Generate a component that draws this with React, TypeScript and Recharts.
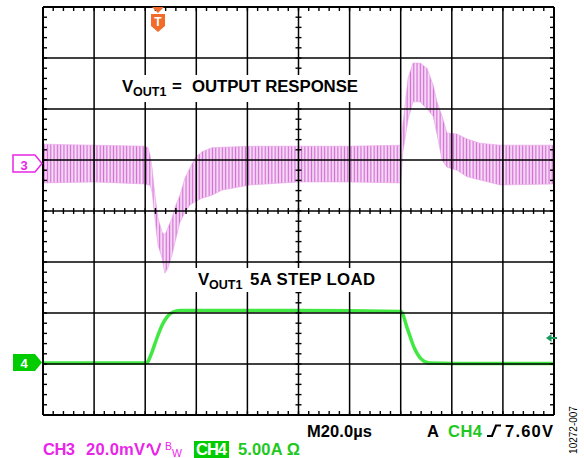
import React from "react";
import { ComposedChart, Area, Line, Scatter, XAxis, YAxis, ReferenceLine } from "recharts";

// time in µs (M 20.0µs/div, 10 div), levels in screen divisions (8 div, centre = 0)
const ch3Time = [0, 20, 40, 41.1, 41.9, 42.7, 43.8, 45.0, 46.6, 47.7, 48.9, 50.5, 51.7, 53.6, 55.6, 57.5, 59.5, 62.2, 66.1, 70.1, 81, 100, 120, 140, 140.8, 142.9, 144.8, 147.6, 150.3, 152.7, 154.2, 156.2, 158.1, 162, 166, 171, 179, 200];
const ch3High = [1.31, 1.29, 1.27, 1.24, 1.1, 0.84, 0.31, -0.14, -0.41, -0.47, -0.33, -0.14, 0.08, 0.31, 0.65, 0.84, 1.04, 1.16, 1.24, 1.25, 1.27, 1.27, 1.27, 1.29, 1.67, 2.61, 2.9, 2.9, 2.8, 2.47, 2.14, 1.86, 1.53, 1.51, 1.41, 1.33, 1.29, 1.29];
const ch3Low = [0.55, 0.57, 0.53, 0.51, 0.51, 0.37, -0.14, -0.67, -0.92, -1.22, -1.12, -0.86, -0.61, -0.22, -0.02, 0.12, 0.18, 0.25, 0.31, 0.41, 0.51, 0.57, 0.57, 0.55, 1.14, 1.8, 2.14, 2.14, 2.0, 1.86, 1.51, 1.0, 0.86, 0.8, 0.67, 0.61, 0.51, 0.53];

const ch4Time = [0, 40.5, 41.1, 42.7, 44.6, 46.6, 48.5, 50.9, 53.6, 100, 140.1, 142.5, 145.2, 148, 151.1, 170, 200];
const ch4Level = [-2.98, -2.98, -2.95, -2.76, -2.49, -2.24, -2.08, -1.98, -1.95, -1.95, -1.97, -2.29, -2.67, -2.9, -2.98, -2.99, -2.99];

const majorX = [0, 20, 40, 60, 80, 100, 120, 140, 160, 180, 200];
const majorY = [-4, -3, -2, -1, 0, 1, 2, 3, 4];

const minorX = Array.from({ length: 51 }, (_, i) => i * 4);
const minorY = Array.from({ length: 41 }, (_, i) => -4 + i * 0.2);

const ch3Rows = ch3Time.map((t, i) => ({ t, band: [ch3Low[i], ch3High[i]] }));
const ch4Rows = ch4Time.map((t, i) => ({ t, v: ch4Level[i] }));

const MAGENTA = "#e826e8";
const GREEN = "#1fc81f";
const FONT = "'Liberation Sans', Arial, sans-serif";

const tickShape = (dx1: number, dy1: number, dx2: number, dy2: number) => (p: any) => (
  <line x1={p.cx + dx1} y1={p.cy + dy1} x2={p.cx + dx2} y2={p.cy + dy2} stroke="#000" strokeWidth={1.4} />
);

export default function App() {
  const txt = { fontFamily: FONT, fontWeight: 700 as const, fontSize: 16.5 };
  return (
    <div style={{ position: "absolute", left: 0, top: 0, width: 584, height: 458, background: "#fff" }}>
      <ComposedChart width={584} height={458} data={ch3Rows} margin={{ top: 7, right: 30, bottom: 43, left: 43 }}>
        <defs>
          <pattern id="ripple" patternUnits="userSpaceOnUse" width={3.3} height={5}>
            <rect width={3.3} height={5} fill="#f7dff7" />
            <rect x={0.6} width={1.3} height={5} fill="#cc4fcc" opacity={0.8} />
          </pattern>
        </defs>
        <XAxis dataKey="t" type="number" domain={[0, 200]} hide allowDataOverflow />
        <YAxis type="number" domain={[-4, 4]} hide allowDataOverflow />
        <Area
          type="linear"
          dataKey="band"
          stroke="#e7a3e7"
          strokeWidth={0.6}
          fill="url(#ripple)"
          fillOpacity={1}
          isAnimationActive={false}
        />
        <Line
          data={ch4Rows}
          type="monotone"
          dataKey="v"
          stroke="#2ee62e"
          strokeWidth={3.5}
          strokeOpacity={0.9}
          dot={false}
          isAnimationActive={false}
        />
        {majorX.map((x) => (
          <ReferenceLine key={"vx" + x} x={x} stroke="#000" strokeWidth={x === 0 || x === 200 ? 2 : 1.5} />
        ))}
        {majorY.map((y) => (
          <ReferenceLine key={"hy" + y} y={y} stroke="#000" strokeWidth={y === -4 || y === 4 ? 2 : 1.5} />
        ))}
        <Scatter data={minorX.map((t) => ({ t, v: 4 }))} dataKey="v" shape={tickShape(0, 0, 0, 4)} isAnimationActive={false} />
        <Scatter data={minorX.map((t) => ({ t, v: -4 }))} dataKey="v" shape={tickShape(0, -4, 0, 0)} isAnimationActive={false} />
        <Scatter data={minorX.map((t) => ({ t, v: 0 }))} dataKey="v" shape={tickShape(0, -3, 0, 3)} isAnimationActive={false} />
        <Scatter data={minorY.map((v) => ({ t: 0, v }))} dataKey="v" shape={tickShape(0, 0, 4, 0)} isAnimationActive={false} />
        <Scatter data={minorY.map((v) => ({ t: 200, v }))} dataKey="v" shape={tickShape(-4, 0, 0, 0)} isAnimationActive={false} />
        <Scatter data={minorY.map((v) => ({ t: 100, v }))} dataKey="v" shape={tickShape(-3, 0, 3, 0)} isAnimationActive={false} />
      </ComposedChart>

      <svg width={584} height={458} style={{ position: "absolute", left: 0, top: 0, pointerEvents: "none" }}>
        {/* trace labels */}
        <rect x={117} y={75} width={246} height={27} fill="#fff" />
        <text {...txt} fontSize={16.8} y={92}>
          <tspan x={122}>V</tspan>
          <tspan x={133} y={95.5} fontSize={12.5}>OUT1</tspan>
          <tspan x={172} y={92}>=</tspan>
          <tspan x={192} y={92} textLength={166}>OUTPUT RESPONSE</tspan>
        </text>
        <rect x={192} y={268} width={189} height={24} fill="#fff" />
        <text {...txt} fontSize={16.8} y={285}>
          <tspan x={198}>V</tspan>
          <tspan x={209} y={289} fontSize={12.5}>OUT1</tspan>
          <tspan x={250} y={285} textLength={125}>5A STEP LOAD</tspan>
        </text>

        {/* trigger marker */}
        <path d="M152,7 L164,7 L158,13 Z" fill="#f26b2a" />
        <path d="M151,14 L165,14 L165,26 L158,32 L151,26 Z" fill="#f26b2a" />
        <text x={158} y={26} textAnchor="middle" fontFamily={FONT} fontWeight={700} fontSize={12} fill="#fff">T</text>

        {/* channel markers */}
        <path d="M13,155 L35,155 L42,163.5 L35,172 L13,172 Z" fill="#fff" stroke={MAGENTA} strokeWidth={1.5} />
        <text x={24} y={169.5} textAnchor="middle" fontFamily={FONT} fontWeight={700} fontSize={13} fill={MAGENTA}>3</text>
        <path d="M13,354 L35,354 L42,362.5 L35,371 L13,371 Z" fill="#00cc00" />
        <text x={24} y={367.5} textAnchor="middle" fontFamily={FONT} fontWeight={700} fontSize={13} fill="#fff">4</text>

        {/* ch4 reference arrow */}
        <path d="M546,338 L551.5,334 L551.5,342 Z" fill="#1a9a5a" />
        <line x1={550} y1={338} x2={557} y2={338} stroke="#1a9a5a" strokeWidth={2} />

        {/* status line 1 */}
        <text {...txt} x={307} y={437} fill="#000" textLength={65}>M20.0µs</text>
        <text {...txt} x={427} y={437} fill="#000">A</text>
        <text {...txt} x={448} y={437} fill={GREEN} textLength={34}>CH4</text>
        <path d="M487,436 L492,436 L496,425.5 L501,425.5" fill="none" stroke="#000" strokeWidth={2.2} />
        <text {...txt} x={505} y={437} fill="#000" textLength={48}>7.60V</text>

        {/* status line 2 */}
        <text {...txt} x={43} y={455} fill={MAGENTA} textLength={32}>CH3</text>
        <text {...txt} x={86} y={455} fill={MAGENTA} textLength={59}>20.0mV</text>
        <path
          d="M147.5,447 Q149,442.5 151,445.5 L153.5,453 Q155,456.5 157,452.5 L160,444"
          fill="none"
          stroke={MAGENTA}
          strokeWidth={2.2}
          strokeLinecap="round"
        />
        <text x={165} y={450} fontFamily={FONT} fontSize={10.5} fill={MAGENTA}>B</text>
        <text x={172} y={457} fontFamily={FONT} fontSize={10.5} fill={MAGENTA}>W</text>
        <rect x={194} y={441} width={35} height={17} fill="#00cc00" />
        <text {...txt} x={196} y={455} fill="#fff" textLength={31}>CH4</text>
        <text {...txt} x={238} y={455} fill={GREEN} textLength={62}>5.00A Ω</text>

        {/* figure number */}
        <text
          x={0}
          y={0}
          transform="translate(577,430) rotate(-90)"
          textAnchor="middle"
          fontFamily={FONT}
          fontSize={10}
          fill="#000"
        >
          10272-007
        </text>
      </svg>
    </div>
  );
}
